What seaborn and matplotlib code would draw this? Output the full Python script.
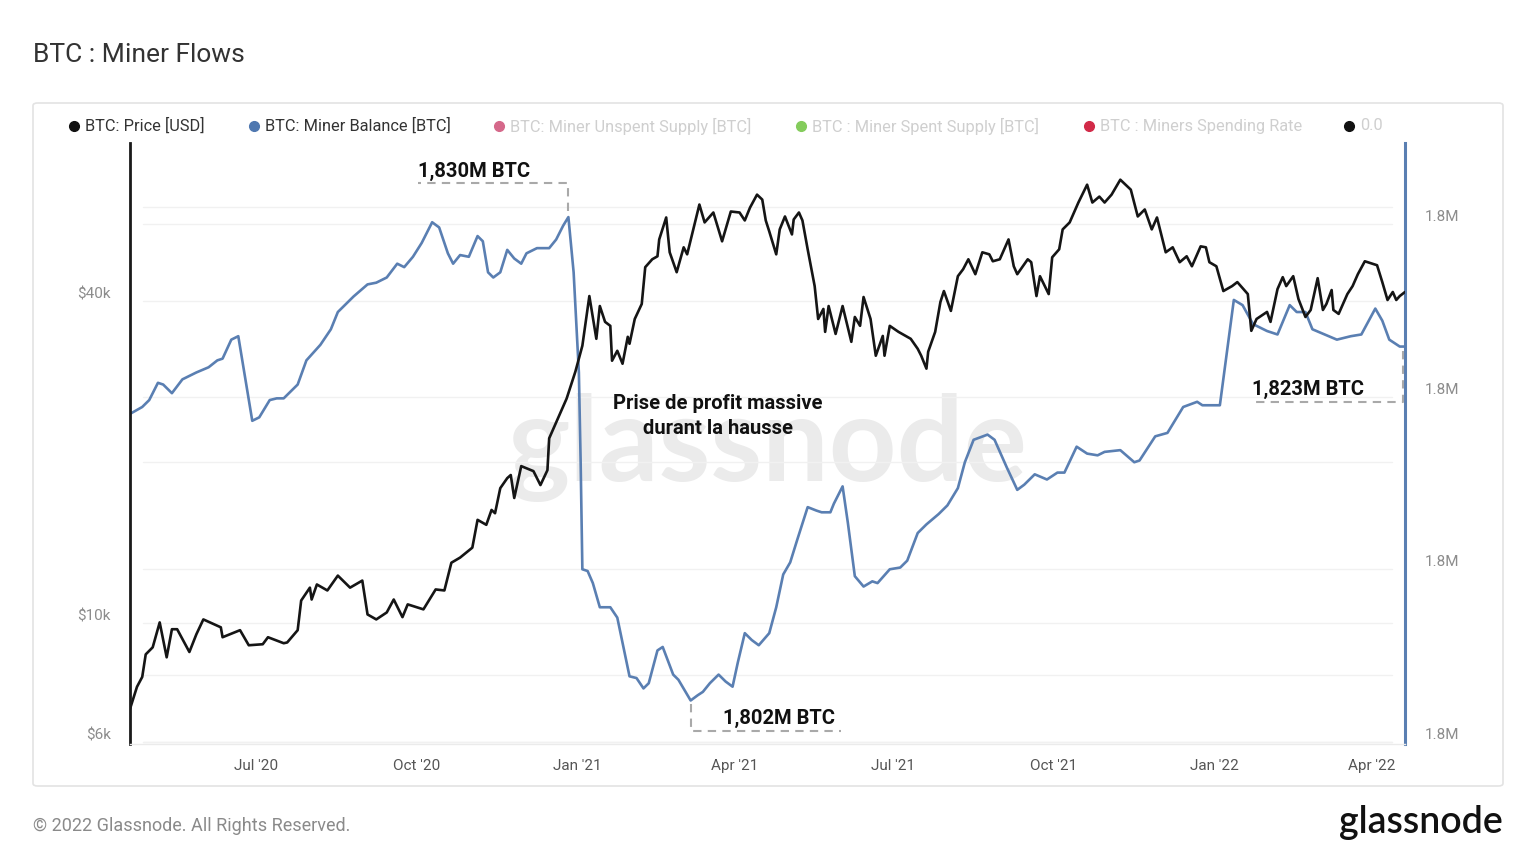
import pandas as pd
import numpy as np
import matplotlib
matplotlib.use("Agg")
import matplotlib.pyplot as plt
import matplotlib.dates as mdates
import matplotlib.ticker as mticker
from matplotlib.lines import Line2D
from matplotlib.patches import FancyBboxPatch
from matplotlib.transforms import blended_transform_factory
import seaborn as sns

START = pd.Timestamp("2020-04-20")
END = pd.Timestamp("2022-04-20")

# BTC price [USD] (x = days after START)
price_days = [
    0, 4, 7, 9, 13, 17, 21, 24, 27, 34,
    38, 42, 52, 53, 63, 68, 76, 79, 88, 90,
    96, 98, 103, 104, 107, 113, 119, 126, 133, 136,
    141, 147, 151, 156, 159, 168, 175, 180, 184, 189,
    196, 199, 204, 207, 209, 212, 216, 218, 220, 224,
    231, 235, 239, 240, 250, 255, 259, 263, 267, 269,
    272, 275, 276, 279, 282, 285, 286, 289, 293, 295,
    299, 302, 303, 307, 309, 313, 317, 319, 326, 329,
    334, 339, 344, 349, 352, 355, 359, 362, 364, 366,
    370, 372, 375, 379, 380, 383, 385, 388, 392, 394,
    397, 398, 400, 404, 408, 413, 415, 418, 420, 424,
    427, 431, 432, 435, 440, 447, 451, 453, 456, 457,
    461, 464, 466, 470, 474, 477, 480, 484, 488, 492,
    494, 498, 503, 506, 508, 514, 516, 519, 521, 526,
    528, 532, 534, 538, 543, 548, 551, 555, 558, 562,
    567, 573, 577, 581, 585, 588, 593, 597, 601, 605,
    608, 613, 616, 618, 622, 626, 631, 634, 640, 642,
    645, 651, 653, 657, 660, 662, 666, 669, 673, 676,
    680, 683, 685, 688, 689, 692, 697, 700, 703, 707,
    714, 717, 720, 723, 725, 727, 730,
]
price_usd = [
    6920, 7610, 7940, 8750, 9020, 10040, 8640, 9750, 9750, 8840,
    9540, 10170, 9830, 9420, 9710, 9100, 9140, 9420, 9180, 9210,
    9710, 11030, 11660, 11080, 11820, 11520, 12280, 11660, 12020, 10390,
    10170, 10480, 11080, 10270, 10850, 10620, 11570, 11520, 12980, 13270,
    13850, 15610, 15280, 16290, 16060, 17890, 18680, 18930, 17150, 19670,
    19250, 18130, 19330, 22170, 26310, 29540, 33020, 40890, 34020, 39170,
    36590, 35970, 30960, 32310, 30560, 34310, 33300, 37050, 39520, 46300,
    47900, 48520, 52170, 57340, 49360, 45310, 50430, 48930, 60620, 56130,
    58580, 51750, 58830, 58580, 56610, 59840, 63260, 61930, 56610, 54010,
    48930, 54470, 57590, 53310, 56850, 58580, 56610, 50000, 42680, 37050,
    38680, 35050, 39170, 34740, 39170, 33580, 37370, 35970, 40720, 37050,
    31630, 34440, 31630, 35970, 35050, 34020, 32590, 31630, 29920, 32180,
    35050, 39860, 41780, 38360, 44540, 45890, 47900, 44920, 49360, 48930,
    47490, 47900, 52170, 46480, 44920, 47900, 47300, 40890, 44540, 41240,
    48310, 50000, 54470, 56130, 61150, 66030, 61150, 62730, 61150, 63260,
    67460, 64630, 57590, 59350, 54470, 57340, 49360, 50430, 47300, 48520,
    46480, 50640, 50430, 47300, 46480, 41780, 42680, 43420, 41240, 35210,
    37050, 38190, 36590, 42130, 44350, 42680, 44540, 40370, 37370, 38510,
    44160, 38510, 39520, 41960, 38510, 37870, 41240, 42680, 44920, 47490,
    46690, 43420, 40200, 41610, 40200, 40890, 41610,
]

# Miner balance [thousand BTC]
balance_days = [
    0, 7, 11, 16, 19, 24, 30, 38, 45, 50,
    53, 58, 62, 70, 74, 80, 84, 88, 96, 101,
    109, 115, 119, 128, 136, 141, 147, 153, 157, 162,
    167, 173, 177, 182, 185, 189, 194, 199, 202, 205,
    208, 212, 216, 220, 224, 227, 233, 240, 244, 248,
    251, 254, 257, 258, 259, 262, 265, 269, 275, 279,
    286, 290, 294, 297, 302, 305, 311, 314, 321, 325,
    328, 332, 337, 341, 345, 348, 352, 356, 360, 366,
    370, 374, 378, 382, 388, 393, 396, 401, 403, 408,
    411, 415, 420, 425, 428, 435, 441, 445, 451, 456,
    463, 468, 474, 478, 483, 491, 495, 502, 508, 512,
    518, 525, 531, 535, 542, 548, 554, 558, 567, 575,
    578, 587, 594, 603, 611, 614, 624, 632, 637, 643,
    651, 657, 664, 668, 673, 677, 684, 691, 699, 705,
    713, 717, 721, 727, 730,
]
balance_kbtc = [
    1819.0, 1819.4, 1819.8, 1820.8, 1820.7, 1820.2, 1821.0, 1821.4, 1821.7, 1822.1,
    1822.2, 1823.3, 1823.5, 1818.6, 1818.8, 1819.8, 1819.9, 1819.9, 1820.7, 1822.1,
    1823.0, 1823.9, 1824.9, 1825.8, 1826.5, 1826.6, 1826.9, 1827.7, 1827.5, 1828.1,
    1828.9, 1830.1, 1829.8, 1828.3, 1827.7, 1828.2, 1828.1, 1829.3, 1829.0, 1827.2,
    1826.9, 1827.2, 1828.5, 1828.0, 1827.7, 1828.3, 1828.6, 1828.6, 1829.1, 1829.9,
    1830.4, 1827.2, 1821.4, 1816.3, 1810.0, 1809.9, 1809.2, 1807.8, 1807.8, 1807.2,
    1803.8, 1803.7, 1803.1, 1803.4, 1805.3, 1805.5, 1803.9, 1803.6, 1802.4, 1802.7,
    1802.9, 1803.4, 1803.9, 1803.5, 1803.2, 1804.6, 1806.3, 1805.9, 1805.6, 1806.3,
    1807.8, 1809.7, 1810.4, 1811.7, 1813.6, 1813.4, 1813.3, 1813.3, 1813.8, 1814.8,
    1812.7, 1809.6, 1809.0, 1809.3, 1809.2, 1810.0, 1810.1, 1810.5, 1812.1, 1812.6,
    1813.2, 1813.7, 1814.7, 1816.2, 1817.5, 1817.8, 1817.5, 1815.9, 1814.6, 1814.9,
    1815.5, 1815.2, 1815.6, 1815.6, 1817.1, 1816.7, 1816.6, 1816.8, 1816.9, 1816.2,
    1816.3, 1817.7, 1817.9, 1819.4, 1819.7, 1819.5, 1819.5, 1825.6, 1825.3, 1824.2,
    1823.8, 1823.6, 1825.3, 1824.9, 1824.9, 1823.9, 1823.6, 1823.3, 1823.5, 1823.6,
    1825.1, 1824.4, 1823.3, 1822.9, 1822.9,
]

price_ticks = [6000, 10000, 40000]
price_tick_labels = ["$6k", "$10k", "$40k"]
price_grid = [6000, 8000, 10000, 20000, 40000, 60000]
balance_ticks = [1800000, 1810000, 1820000, 1830000]
month_ticks = ["2020-07-01", "2020-10-01", "2021-01-01", "2021-04-01",
               "2021-07-01", "2021-10-01", "2022-01-01", "2022-04-01"]
month_labels = ["Jul '20", "Oct '20", "Jan '21", "Apr '21",
                "Jul '21", "Oct '21", "Jan '22", "Apr '22"]

legend_labels = ["BTC: Price [USD]", "BTC: Miner Balance [BTC]",
                 "BTC: Miner Unspent Supply [BTC]", "BTC : Miner Spent Supply [BTC]",
                 "BTC : Miners Spending Rate", "0.0"]
legend_colors = ["#111111", "#4f78b0", "#d5688a", "#84cc5c", "#d22a48", "#111111"]
legend_on = [True, True, False, False, False, False]

BLACK = "#151515"
BLUE = "#5a7fb2"

assert len(price_days) == len(price_usd)
assert len(balance_days) == len(balance_kbtc)

price_df = pd.DataFrame({
    "date": START + pd.to_timedelta(price_days, unit="D"),
    "price": price_usd,
})
bal_df = pd.DataFrame({
    "date": START + pd.to_timedelta(balance_days, unit="D"),
    "balance": np.array(balance_kbtc) * 1000,
})

sns.set_theme(style="white")
plt.rcParams["font.family"] = ["Roboto", "DejaVu Sans"]

W, H = 1536, 864
fig = plt.figure(figsize=(W / 100, H / 100), dpi=100)
fig.patch.set_facecolor("white")


def fxy(px, py):
    return px / W, 1 - py / H


# card
cx0, cy0 = fxy(33, 786)
cx1, cy1 = fxy(1503, 103)
fig.add_artist(FancyBboxPatch((cx0, cy0), cx1 - cx0, cy1 - cy0,
                              boxstyle="round,pad=0,rounding_size=0.003",
                              transform=fig.transFigure, facecolor="white",
                              edgecolor="#e3e3e3", lw=1.2, zorder=-2))

l, b = fxy(130, 744)
r, t = fxy(1405, 143)
ax = fig.add_axes([l, b, r - l, t - b])
ax2 = ax.twinx()
ax.set_zorder(2)
ax.patch.set_visible(False)
ax2.patch.set_visible(False)

sns.lineplot(data=price_df, x="date", y="price", ax=ax, color=BLACK,
             linewidth=1.9, estimator=None)
sns.lineplot(data=bal_df, x="date", y="balance", ax=ax2, color=BLUE,
             linewidth=1.9, estimator=None)

ax.set_yscale("log")
ax.set_ylim(5950, 79000)
ax2.set_ylim(1799880, 1834690)
ax.set_xlim(START, END)

ax.yaxis.set_major_locator(mticker.FixedLocator(price_ticks))
ax.yaxis.set_major_formatter(mticker.FixedFormatter(price_tick_labels))
ax.yaxis.set_minor_locator(mticker.NullLocator())
ax2.yaxis.set_major_locator(mticker.FixedLocator(balance_ticks))
ax2.yaxis.set_major_formatter(mticker.FuncFormatter(lambda v, _: f"{v / 1e6:.1f}M"))
ax.set_xticks(pd.to_datetime(month_ticks))
ax.set_xticklabels(month_labels)

for a in (ax, ax2):
    a.set_xlabel("")
    a.set_ylabel("")
    a.spines["top"].set_visible(False)
ax.spines["right"].set_visible(False)
ax2.spines["left"].set_visible(False)
ax2.spines["bottom"].set_visible(False)
ax.spines["left"].set_color("#1a1a1a")
ax.spines["left"].set_linewidth(2.0)
ax2.spines["right"].set_color(BLUE)
ax2.spines["right"].set_linewidth(2.2)
ax.spines["bottom"].set_color("#ebebeb")
ax.spines["bottom"].set_linewidth(1.0)

ax.tick_params(axis="y", length=0, pad=14, labelsize=11, labelcolor="#8c8c8c")
ax2.tick_params(axis="y", length=0, pad=14, labelsize=11, labelcolor="#8c8c8c")
ax.tick_params(axis="x", length=0, pad=11, labelsize=11, labelcolor="#555555")
plt.setp(ax.get_yticklabels(), va="bottom")
plt.setp(ax2.get_yticklabels(), va="bottom")

# faint horizontal grid, behind both lines
gtrans = blended_transform_factory(ax.transAxes, ax.transData)
for p in price_grid:
    ax2.add_line(Line2D([0.01, 0.99], [p, p], transform=gtrans,
                        color="#f1f1f1", lw=1.0, zorder=0))
for v in balance_ticks:
    ax2.axhline(v, xmin=0.01, xmax=0.99, color="#f1f1f1", lw=1.0, zorder=0)

# watermark
wx, wy = fxy(767, 447)
fig.text(wx, wy, "glassnode", fontsize=85, color="#ebebeb", ha="center",
         va="center", family=["Lato", "DejaVu Sans"], fontweight="bold", zorder=-1)


def data_px(axis, date, val):
    dx, dy = axis.transData.transform((mdates.date2num(date), val))
    return dx, H - dy


def fig_line(pts):
    xs = [p[0] / W for p in pts]
    ys = [1 - p[1] / H for p in pts]
    fig.add_artist(Line2D(xs, ys, transform=fig.transFigure, color="#a9a9a9",
                          lw=1.5, linestyle=(0, (4, 3)), zorder=5))


def fig_label(px, py, text, **kw):
    x, y = fxy(px, py)
    fig.text(x, y, text, fontsize=14.5, fontweight="bold", color="#111111",
             va="center", zorder=6, **kw)


def btc_label(v):
    return f"{v / 1000:.3f}M BTC".replace(".", ",")


# callouts on miner balance
i_max = int(np.argmax(balance_kbtc))
i_min = int(np.argmin(balance_kbtc))
px, py = data_px(ax2, bal_df["date"][i_max], bal_df["balance"][i_max])
fig_line([(px, py - 6), (px, py - 34), (px - 150, py - 34)])
fig_label(px - 150, py - 46, btc_label(balance_kbtc[i_max]), ha="left")

px, py = data_px(ax2, bal_df["date"][i_min], bal_df["balance"][i_min])
fig_line([(px, py + 4), (px, py + 31), (px + 150, py + 31)])
fig_label(px + 32, py + 18, btc_label(balance_kbtc[i_min]), ha="left")

px, py = data_px(ax2, bal_df["date"].iloc[-1], bal_df["balance"].iloc[-1])
fig_line([(px - 2, py + 4), (px - 2, py + 55), (px - 151, py + 55)])
fig_label(px - 153, py + 43, btc_label(balance_kbtc[-1]), ha="left")

tx, ty = fxy(718, 416)
fig.text(tx, ty, "Prise de profit massive\ndurant la hausse", fontsize=14.5,
         fontweight="bold", color="#111111", ha="center", va="center",
         linespacing=1.45, zorder=6)

# legend row
legend_x = [74, 254, 499, 801, 1089, 1349]
for lx, lab, col, on in zip(legend_x, legend_labels, legend_colors, legend_on):
    mx, my = fxy(lx, 126)
    fig.add_artist(Line2D([mx], [my], marker="o", markersize=7, color=col,
                          linestyle="none", transform=fig.transFigure))
    tx, ty = fxy(lx + 11, 126)
    fig.text(tx, ty, lab, fontsize=11.8, color="#333333" if on else "#cfcfcf",
             ha="left", va="center")

# title and footer
tx, ty = fxy(33, 55)
fig.text(tx, ty, "BTC : Miner Flows", fontsize=19, color="#333333",
         ha="left", va="center")
tx, ty = fxy(33, 826)
fig.text(tx, ty, "© 2022 Glassnode. All Rights Reserved.", fontsize=13,
         color="#8a8a8a", ha="left", va="center")
tx, ty = fxy(1503, 822)
fig.text(tx, ty, "glassnode", fontsize=27, color="#111111", ha="right",
         va="center", family=["Lato", "DejaVu Sans"], fontweight="semibold")

fig.savefig("out.png", dpi=100, facecolor="white")
